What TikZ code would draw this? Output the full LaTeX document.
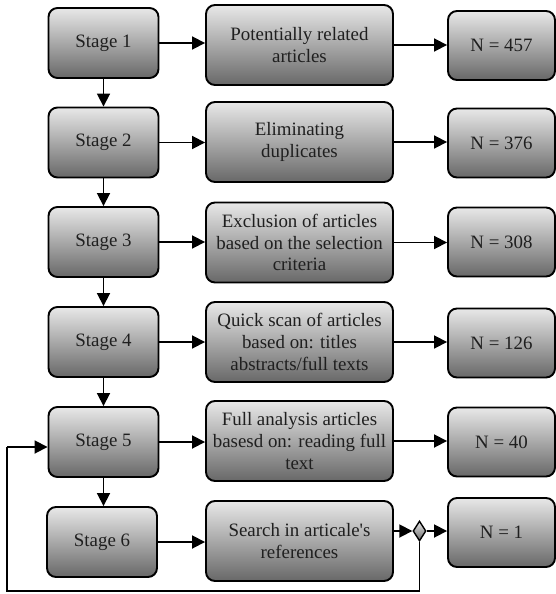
\documentclass[tikz,border=0pt]{standalone}
\usepackage{fontspec}
\newfontfamily\tnr{Liberation Serif}
\usetikzlibrary{arrows.meta,shapes.geometric}
\definecolor{boxtop}{RGB}{232,232,232}
\definecolor{boxbot}{RGB}{104,104,104}
\tikzset{
  box/.style={rounded corners=9pt, draw=black, line width=1.9pt,
    top color=boxtop, bottom color=boxbot, align=center, inner sep=0pt,
    font=\tnr\fontsize{18.9}{21.7}\selectfont, text=black!88},
  stagebox/.style={box, minimum width=110pt, minimum height=70pt},
  midbox/.style={box, minimum width=187pt, minimum height=80pt},
  nbox/.style={box, minimum width=107pt, minimum height=69pt},
  conn/.style={line width=1.8pt, -{Triangle[length=13pt,width=13pt]}},
  plainline/.style={line width=1.8pt},
  dec/.style={diamond, draw=black, line width=1.4pt, top color=boxtop,
    bottom color=boxbot, minimum width=13pt, minimum height=20pt, inner sep=0pt}
}
\begin{document}
\begin{tikzpicture}[x=1pt,y=-1pt]
\useasboundingbox (0,0) rectangle (556,594);
% left column
\node[stagebox] (s1) at (103.5,43) {Stage 1};
\node[stagebox] (s2) at (103.5,142.5) {Stage 2};
\node[stagebox] (s3) at (103.5,242) {Stage 3};
\node[stagebox] (s4) at (103.5,342) {Stage 4};
\node[stagebox] (s5) at (103.5,442) {Stage 5};
\node[stagebox] (s6) at (102,542) {Stage 6};
% middle column
\node[midbox] (m1) at (299.5,45) {Potentially related\\articles};
\node[midbox] (m2) at (299.5,142) {Eliminating\\duplicates};
\node[midbox] (m3) at (299.5,242.5) {Exclusion of articles\\based on the selection\\criteria};
\node[midbox] (m4) at (299.5,342) {Quick scan of articles\\based on: titles\\abstracts/full texts};
\node[midbox] (m5) at (299.5,441) {Full analysis articles\\basesd on: reading full\\text};
\node[midbox] (m6) at (299.5,541) {Search in articale's\\references};
% right column
\node[nbox] (r1) at (501.5,45.5) {N = 457};
\node[nbox] (r2) at (501.5,143) {N = 376};
\node[nbox] (r3) at (501.5,242) {N = 308};
\node[nbox] (r4) at (501.5,343) {N = 126};
\node[nbox] (r5) at (501.5,442) {N = 40};
\node[nbox] (r6) at (501.5,532.5) {N = 1};
% decision diamond
\node[dec] (d) at (419.5,531) {};
% vertical arrows
\draw[conn] (s1.south) -- (s1.south |- s2.north);
\draw[conn] (s2.south) -- (s2.south |- s3.north);
\draw[conn] (s3.south) -- (s3.south |- s4.north);
\draw[conn] (s4.south) -- (s4.south |- s5.north);
\draw[conn] (s5.south) -- (s5.south |- s6.north);
% stage -> middle
\foreach \i in {1,...,6}{
  \draw[conn] (s\i.east) -- (s\i.east -| m\i.west);
}
% middle -> right
\foreach \i in {1,...,5}{
  \draw[conn] (m\i.east) -- (m\i.east -| r\i.west);
}
\draw[conn] (m6.east |- d.west) -- (d.west);
\draw[conn] (d.east) -- (d.east -| r6.west);
% loop back
\coordinate (lb) at (419.5,591);
\coordinate (ll) at (7,591);
\coordinate (lt) at (7,447);
\draw[plainline] (d.south) -- (lb) -- (ll) -- (lt);
\draw[conn] (lt) -- (lt -| s5.west);
\end{tikzpicture}
\end{document}
